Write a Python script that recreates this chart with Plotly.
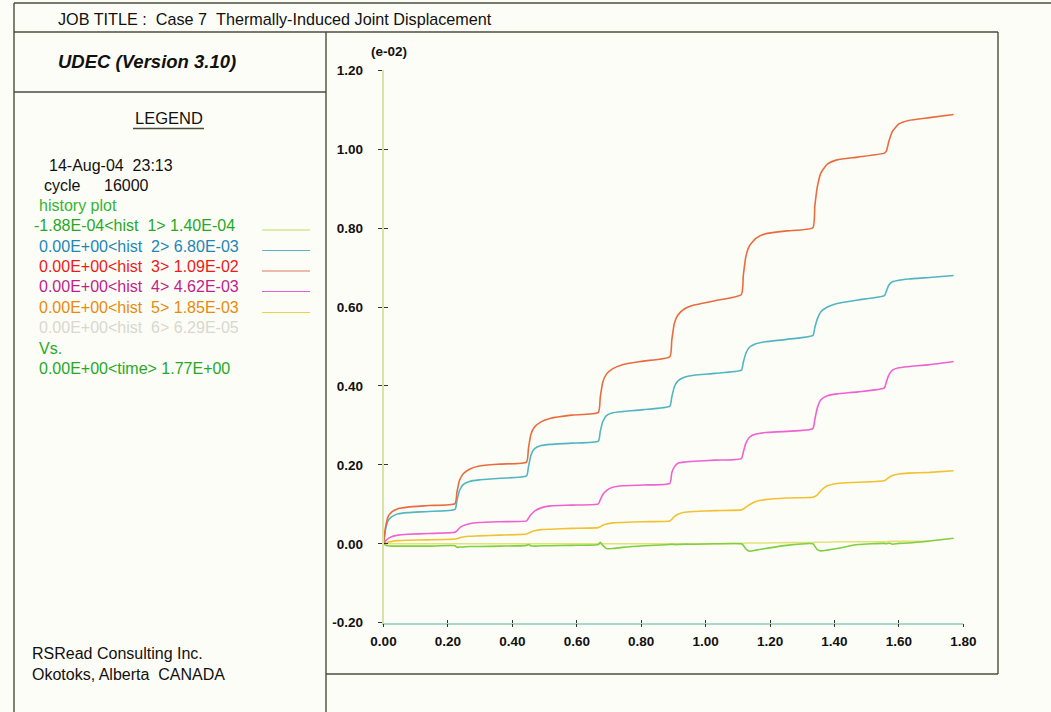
import plotly.graph_objects as go

# ---------------------------------------------------------------------------
# History data (displacement in units of 1e-02 vs. time)
# ---------------------------------------------------------------------------
time = [0.000, 0.006, 0.014, 0.025, 0.045, 0.075, 0.140, 0.222,
        0.228, 0.236, 0.247, 0.267, 0.297, 0.362, 0.444,
        0.450, 0.458, 0.469, 0.489, 0.519, 0.584, 0.667,
        0.673, 0.681, 0.692, 0.712, 0.742, 0.807, 0.889,
        0.895, 0.903, 0.914, 0.934, 0.964, 1.029, 1.111,
        1.117, 1.125, 1.136, 1.156, 1.186, 1.251, 1.333,
        1.339, 1.347, 1.358, 1.378, 1.408, 1.473, 1.555,
        1.561, 1.569, 1.580, 1.600, 1.630, 1.695, 1.770]

hist1 = [0.000, -0.003, -0.005, -0.006, -0.006, -0.006, -0.006, -0.005,
         -0.009, -0.008, -0.008, -0.007, -0.007, -0.006, -0.004,
         -0.002, -0.005, -0.006, -0.005, -0.005, -0.004, -0.002,
         0.004, -0.004, -0.012, -0.012, -0.009, -0.005, -0.002,
         -0.001, -0.002, -0.002, -0.001, -0.001, 0.000, 0.000,
         -0.004, -0.013, -0.0188, -0.016, -0.012, -0.004, 0.000,
         -0.006, -0.015, -0.018, -0.016, -0.012, -0.002, 0.001,
         0.000, 0.002, -0.001, 0.001, 0.002, 0.007, 0.014]

hist2 = [0.000, 0.035, 0.058, 0.068, 0.076, 0.079, 0.082, 0.087,
         0.110, 0.135, 0.150, 0.158, 0.162, 0.166, 0.172,
         0.195, 0.225, 0.241, 0.249, 0.252, 0.255, 0.260,
         0.285, 0.310, 0.325, 0.332, 0.335, 0.340, 0.349,
         0.372, 0.398, 0.413, 0.422, 0.427, 0.432, 0.440,
         0.460, 0.483, 0.498, 0.507, 0.512, 0.518, 0.528,
         0.548, 0.570, 0.588, 0.600, 0.609, 0.618, 0.629,
         0.640, 0.656, 0.664, 0.668, 0.671, 0.675, 0.680]

hist3 = [0.000, 0.040, 0.068, 0.080, 0.089, 0.093, 0.097, 0.102,
         0.131, 0.161, 0.177, 0.189, 0.197, 0.202, 0.207,
         0.242, 0.278, 0.296, 0.309, 0.318, 0.326, 0.333,
         0.372, 0.410, 0.430, 0.444, 0.454, 0.463, 0.474,
         0.516, 0.559, 0.580, 0.595, 0.605, 0.616, 0.632,
         0.680, 0.728, 0.755, 0.774, 0.786, 0.793, 0.801,
         0.855, 0.905, 0.940, 0.962, 0.973, 0.980, 0.990,
         0.995, 1.020, 1.045, 1.064, 1.073, 1.080, 1.088]

hist4 = [0.000, 0.007, 0.013, 0.018, 0.022, 0.024, 0.026, 0.029,
         0.033, 0.040, 0.046, 0.051, 0.054, 0.056, 0.058,
         0.065, 0.074, 0.083, 0.091, 0.096, 0.098, 0.101,
         0.112, 0.125, 0.135, 0.143, 0.147, 0.149, 0.153,
         0.180, 0.195, 0.204, 0.207, 0.209, 0.212, 0.216,
         0.232, 0.255, 0.270, 0.278, 0.282, 0.285, 0.292,
         0.315, 0.345, 0.365, 0.375, 0.380, 0.385, 0.395,
         0.410, 0.428, 0.440, 0.446, 0.449, 0.454, 0.462]

hist5 = [0.000, 0.002, 0.004, 0.006, 0.008, 0.009, 0.010, 0.012,
         0.013, 0.015, 0.017, 0.019, 0.020, 0.022, 0.025,
         0.027, 0.030, 0.033, 0.036, 0.037, 0.039, 0.041,
         0.043, 0.047, 0.050, 0.053, 0.054, 0.056, 0.058,
         0.062, 0.069, 0.075, 0.080, 0.082, 0.084, 0.086,
         0.088, 0.093, 0.099, 0.107, 0.112, 0.116, 0.118,
         0.120, 0.124, 0.135, 0.147, 0.153, 0.156, 0.160,
         0.163, 0.168, 0.173, 0.177, 0.179, 0.181, 0.185]

hist6 = [0.0] * 35 + [0.001, 0.001, 0.002, 0.002, 0.002, 0.002, 0.003,
                      0.003, 0.004, 0.004, 0.004, 0.004, 0.005, 0.005,
                      0.005, 0.005, 0.006, 0.006, 0.006, 0.006, 0.006]

x_tick_vals = [0.0, 0.2, 0.4, 0.6, 0.8, 1.0, 1.2, 1.4, 1.6, 1.8]
x_tick_text = ["0.00", "0.20", "0.40", "0.60", "0.80", "1.00", "1.20", "1.40", "1.60", "1.80"]
y_tick_vals = [-0.2, 0.0, 0.2, 0.4, 0.6, 0.8, 1.0, 1.2]
y_tick_text = ["-0.20", "0.00", "0.20", "0.40", "0.60", "0.80", "1.00", "1.20"]

legend_rows = [
    "-1.88E-04&lt;hist\u00a0\u00a01&gt; 1.40E-04",
    "0.00E+00&lt;hist\u00a0\u00a02&gt; 6.80E-03",
    "0.00E+00&lt;hist\u00a0\u00a03&gt; 1.09E-02",
    "0.00E+00&lt;hist\u00a0\u00a04&gt; 4.62E-03",
    "0.00E+00&lt;hist\u00a0\u00a05&gt; 1.85E-03",
    "0.00E+00&lt;hist\u00a0\u00a06&gt; 6.29E-05",
]
legend_text_colors = ["#26a826", "#1c86b6", "#f01818", "#c21e8c", "#e88a0c", "#d8d8cf"]
line_colors = ["#7fcf3e", "#52b6c2", "#e96c3e", "#ef62d0", "#f0c232", "#e2e37a"]
sample_colors = ["#bedc5a", "#62b2c8", "#e07462", "#e264d8", "#e8d448"]

# ---------------------------------------------------------------------------
W, H = 1051, 712
FONT = "Liberation Sans, Arial, sans-serif"
BG = "#fdfdf7"
FRAME = "#4b4b3c"


def px(x):
    return x / W


def py(y):
    return 1 - y / H


fig = go.Figure()

series = [hist6, hist1, hist5, hist4, hist2, hist3]
colors = [line_colors[5], line_colors[0], line_colors[4], line_colors[3],
          line_colors[1], line_colors[2]]
for ys, c in zip(series, colors):
    fig.add_trace(go.Scatter(x=time, y=ys, mode="lines",
                             line=dict(color=c, width=1.6, shape="spline", smoothing=0.5),
                             showlegend=False, hoverinfo="skip"))

# second axis pair carries the inner half of each tick mark
fig.add_trace(go.Scatter(x=[None], y=[None], xaxis="x2", yaxis="y2",
                         showlegend=False, hoverinfo="skip"))

xdom = [px(383.5), px(963.3)]
ydom = [py(622.7), py(70.3)]
tickfont = dict(family=FONT, size=13.5, color="#111111")

fig.update_layout(
    width=W, height=H, autosize=False,
    margin=dict(l=0, r=0, t=0, b=0, pad=0, autoexpand=False),
    paper_bgcolor=BG, plot_bgcolor=BG,
    xaxis=dict(domain=xdom, range=[0, 1.8], showgrid=False, zeroline=False,
               showline=True, linecolor="#a9d9c6", linewidth=1.5, automargin=False,
               ticks="outside", ticklen=3, tickwidth=1.2, tickcolor="#333333",
               tickvals=x_tick_vals, ticktext=["<b>%s</b>" % t for t in x_tick_text],
               tickfont=tickfont, ticklabelstandoff=2, anchor="y"),
    yaxis=dict(domain=ydom, range=[-0.2, 1.2], showgrid=False, zeroline=False,
               showline=True, linecolor="#d6e4a6", linewidth=1.5, automargin=False,
               ticks="outside", ticklen=4, tickwidth=1.2, tickcolor="#333333",
               tickvals=y_tick_vals, ticktext=["<b>%s</b>" % t for t in y_tick_text],
               tickfont=tickfont, ticklabelstandoff=12, anchor="x"),
    xaxis2=dict(domain=xdom, range=[0, 1.8], overlaying="x", anchor="y2",
                showgrid=False, zeroline=False, showline=False, automargin=False,
                ticks="inside", ticklen=3, tickwidth=1.2, tickcolor="#333333",
                tickvals=x_tick_vals, showticklabels=False),
    yaxis2=dict(domain=ydom, range=[-0.2, 1.2], overlaying="y", anchor="x2",
                showgrid=False, zeroline=False, showline=False, automargin=False,
                ticks="inside", ticklen=4, tickwidth=1.2, tickcolor="#333333",
                tickvals=y_tick_vals, showticklabels=False),
)

# ---------------------------------------------------------------------------
# Page frame
# ---------------------------------------------------------------------------
frame_lines = [
    (14, 3, 1051, 3),      # top edge
    (14, 3, 14, 712),      # left edge
    (14, 32, 998, 32),     # under the job title
    (326, 32, 326, 712),   # left panel / plot divider
    (14, 92, 326, 92),     # under the program name
    (998, 32, 998, 674),   # plot box right edge
    (326, 674, 998, 674),  # plot box bottom edge
    (133, 128.5, 204, 128.5),  # LEGEND underline
]
for x0, y0, x1, y1 in frame_lines:
    fig.add_shape(type="line", xref="paper", yref="paper",
                  x0=px(x0), y0=py(y0), x1=px(x1), y1=py(y1),
                  line=dict(color=FRAME, width=1.4))

# legend sample lines
for i, c in enumerate(sample_colors):
    yy = [230, 250.5, 271, 291.5, 312.5][i]
    fig.add_shape(type="line", xref="paper", yref="paper",
                  x0=px(262), y0=py(yy), x1=px(310), y1=py(yy),
                  line=dict(color=c, width=1.2))


def text(x, y, s, size=16, color="#111111", xanchor="left"):
    fig.add_annotation(xref="paper", yref="paper", x=px(x), y=py(y),
                       text=s, showarrow=False, xanchor=xanchor, yanchor="middle",
                       borderpad=0, font=dict(family=FONT, size=size, color=color))


text(57, 19, "JOB TITLE :\u00a0\u00a0Case 7\u00a0\u00a0Thermally-Induced Joint Displacement", 16.2)
text(57, 61, "<b><i>UDEC (Version 3.10)</i></b>", 18.5)
text(168.5, 118, "LEGEND", 16.5, xanchor="center")
text(47.5, 165, "14-Aug-04\u00a0\u00a023:13", 16)
text(42.5, 185, "cycle", 16)
text(102.5, 185, "16000", 16)
text(37.5, 205, "history plot", 16, "#34b434")
row_y = [225.5, 246, 266.5, 286.5, 307, 327]
for i, (s, c) in enumerate(zip(legend_rows, legend_text_colors)):
    text(33 if i == 0 else 37.5, row_y[i], s, 16, c)
text(37.5, 348, "Vs.", 16, "#26a826")
text(37.5, 368, "0.00E+00&lt;time&gt; 1.77E+00", 16, "#26a826")
text(31, 653, "RSRead Consulting Inc.", 16)
text(31, 674, "Okotoks, Alberta\u00a0\u00a0CANADA", 16)
text(370, 52, "<b>(e-02)</b>", 13.5)

fig.write_html("out.html")
